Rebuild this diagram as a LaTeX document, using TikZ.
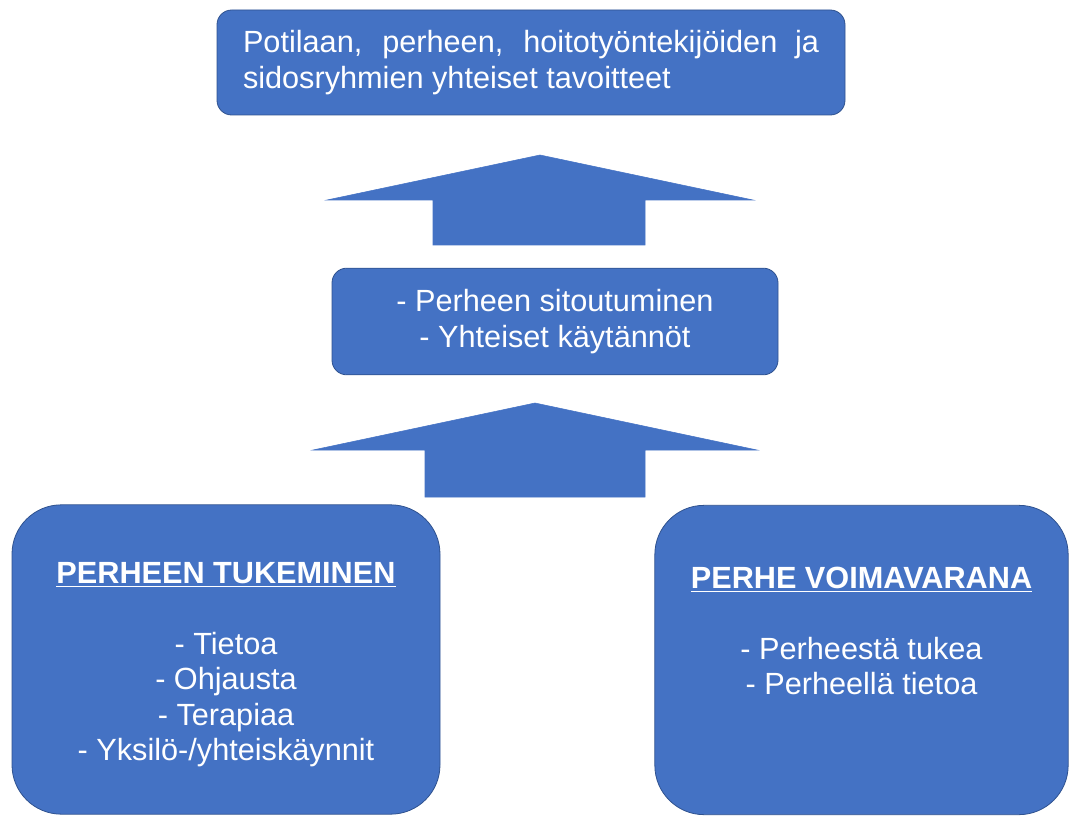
\documentclass[tikz,border=0pt]{standalone}
\usepackage{fontspec}
\setmainfont{Liberation Sans}
\usepackage{tikz}

\definecolor{boxblue}{HTML}{4472C4}
\definecolor{boxline}{HTML}{2F528F}
\newcommand{\boxfont}{\fontsize{23}{26.5}\selectfont\hyphenpenalty=10000 \exhyphenpenalty=10000 \relax}

\tikzset{
  box/.style={draw=boxline, line width=0.6pt, fill=boxblue, text=white,
    inner sep=0pt, align=center, font=\boxfont},
  bigbox/.style={box, rounded corners=37pt, minimum width=321pt, minimum height=232pt},
  upfill/.style={fill=boxblue, draw=boxblue, line width=0.4pt}
}

\begin{document}
\begin{tikzpicture}[x=0.75pt,y=-0.75pt]
  \useasboundingbox (0,0) rectangle (1070,816);

  \node[box, rounded corners=11pt, minimum width=471pt, minimum height=78.75pt,
        text width=432pt, align=justify] (goal) at (531,62.5)
        {Potilaan, perheen, hoitotyöntekijöiden ja sidosryhmien yhteiset tavoitteet};

  \fill[upfill] (540,155) -- (753,200) -- (645,200) -- (645,245) -- (433,245) -- (433,200) -- (327,200) -- cycle;

  \node[box, rounded corners=11pt, minimum width=334.5pt, minimum height=80pt] (mid) at (555,321.5)
        {- Perheen sitoutuminen\\- Yhteiset käytännöt};

  \fill[upfill] (535,403) -- (757,450) -- (645,450) -- (645,497) -- (425,497) -- (425,450) -- (313,450) -- cycle;

  \node[bigbox] (tuki) at (226,659.5)
        {\rule{0pt}{24pt}\underline{\textbf{PERHEEN TUKEMINEN}}\\[26.5pt]
         - Tietoa\\- Ohjausta\\- Terapiaa\\- Yksilö-/yhteiskäynnit};
  \node[bigbox, minimum width=310pt] (voima) at (861.5,660)
        {\underline{\textbf{PERHE VOIMAVARANA}}\\[26.5pt]
         - Perheestä tukea\\- Perheellä tietoa\\[9pt]\strut};

\end{tikzpicture}
\end{document}
